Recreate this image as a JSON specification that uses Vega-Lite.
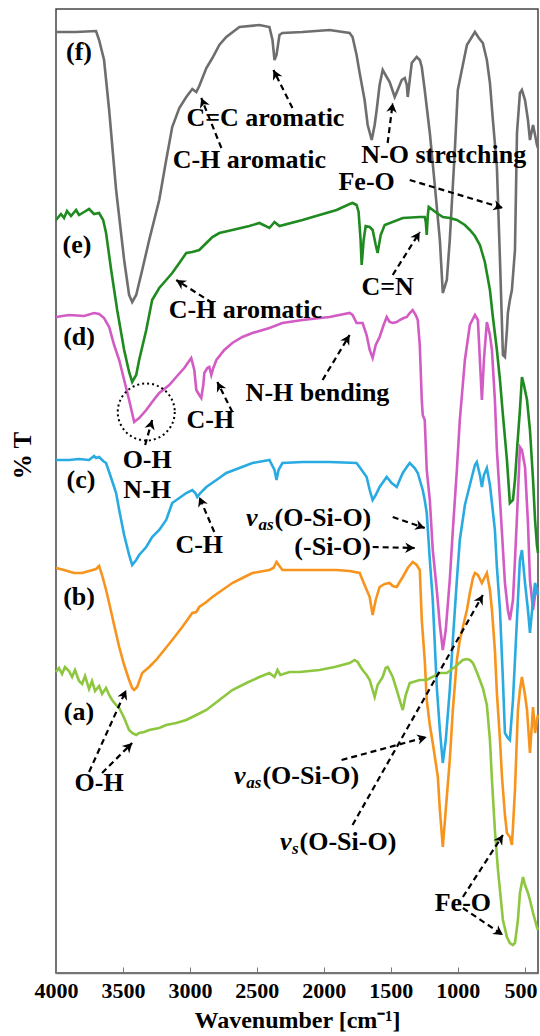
{
"$schema":"https://vega.github.io/schema/vega-lite/v6.json",
"width":482,"height":964,
"autosize":{"type":"none"},
"padding":{"left":56,"top":9,"right":2,"bottom":63},
"background":"white",
"config":{"view":{"stroke":"#444","strokeWidth":1.5},"font":"Liberation Serif"},
"datasets":{
"spectra":[
{"s":"f","w":4000,"t":941},{"s":"f","w":3850,"t":941},{"s":"f","w":3701,"t":942},{"s":"f","w":3678,"t":933},{"s":"f","w":3641,"t":913},{"s":"f","w":3603,"t":863},{"s":"f","w":3551,"t":783},{"s":"f","w":3491,"t":713},{"s":"f","w":3454,"t":678},{"s":"f","w":3431,"t":671},{"s":"f","w":3401,"t":678},{"s":"f","w":3356,"t":703},{"s":"f","w":3304,"t":733},{"s":"f","w":3229,"t":773},{"s":"f","w":3177,"t":813},{"s":"f","w":3132,"t":846},{"s":"f","w":3079,"t":865},{"s":"f","w":3027,"t":876},{"s":"f","w":2982,"t":884},{"s":"f","w":2952,"t":881},{"s":"f","w":2930,"t":887},{"s":"f","w":2877,"t":905},{"s":"f","w":2832,"t":915},{"s":"f","w":2780,"t":928},{"s":"f","w":2728,"t":936},{"s":"f","w":2630,"t":946},{"s":"f","w":2481,"t":948},{"s":"f","w":2406,"t":946},{"s":"f","w":2383,"t":933},{"s":"f","w":2368,"t":913},{"s":"f","w":2353,"t":918},{"s":"f","w":2331,"t":938},{"s":"f","w":2309,"t":940},{"s":"f","w":2159,"t":941},{"s":"f","w":1957,"t":943},{"s":"f","w":1807,"t":940},{"s":"f","w":1785,"t":936},{"s":"f","w":1755,"t":918},{"s":"f","w":1732,"t":900},{"s":"f","w":1695,"t":873},{"s":"f","w":1672,"t":848},{"s":"f","w":1642,"t":833},{"s":"f","w":1620,"t":848},{"s":"f","w":1605,"t":863},{"s":"f","w":1583,"t":888},{"s":"f","w":1560,"t":903},{"s":"f","w":1530,"t":896},{"s":"f","w":1508,"t":891},{"s":"f","w":1470,"t":876},{"s":"f","w":1448,"t":883},{"s":"f","w":1418,"t":893},{"s":"f","w":1395,"t":895},{"s":"f","w":1380,"t":888},{"s":"f","w":1373,"t":876},{"s":"f","w":1358,"t":893},{"s":"f","w":1343,"t":910},{"s":"f","w":1306,"t":916},{"s":"f","w":1283,"t":913},{"s":"f","w":1268,"t":906},{"s":"f","w":1246,"t":883},{"s":"f","w":1208,"t":840},{"s":"f","w":1171,"t":788},{"s":"f","w":1133,"t":733},{"s":"f","w":1111,"t":680},{"s":"f","w":1081,"t":693},{"s":"f","w":1059,"t":733},{"s":"f","w":1021,"t":823},{"s":"f","w":999,"t":883},{"s":"f","w":969,"t":903},{"s":"f","w":931,"t":928},{"s":"f","w":871,"t":941},{"s":"f","w":842,"t":935},{"s":"f","w":812,"t":930},{"s":"f","w":782,"t":913},{"s":"f","w":759,"t":890},{"s":"f","w":737,"t":853},{"s":"f","w":707,"t":806},{"s":"f","w":684,"t":713},{"s":"f","w":662,"t":618},{"s":"f","w":647,"t":616},{"s":"f","w":632,"t":643},{"s":"f","w":625,"t":660},{"s":"f","w":610,"t":673},{"s":"f","w":595,"t":683},{"s":"f","w":572,"t":723},{"s":"f","w":557,"t":840},{"s":"f","w":535,"t":880},{"s":"f","w":520,"t":883},{"s":"f","w":497,"t":873},{"s":"f","w":475,"t":853},{"s":"f","w":460,"t":833},{"s":"f","w":437,"t":848},{"s":"f","w":422,"t":838},{"s":"f","w":408,"t":828},{"s":"f","w":400,"t":825},
{"s":"e","w":4000,"t":753},{"s":"e","w":3963,"t":759},{"s":"e","w":3940,"t":755},{"s":"e","w":3918,"t":762},{"s":"e","w":3888,"t":757},{"s":"e","w":3850,"t":763},{"s":"e","w":3828,"t":758},{"s":"e","w":3790,"t":761},{"s":"e","w":3753,"t":764},{"s":"e","w":3716,"t":759},{"s":"e","w":3678,"t":760},{"s":"e","w":3648,"t":753},{"s":"e","w":3626,"t":740},{"s":"e","w":3588,"t":703},{"s":"e","w":3543,"t":663},{"s":"e","w":3491,"t":623},{"s":"e","w":3454,"t":601},{"s":"e","w":3431,"t":591},{"s":"e","w":3401,"t":598},{"s":"e","w":3379,"t":613},{"s":"e","w":3326,"t":643},{"s":"e","w":3282,"t":673},{"s":"e","w":3229,"t":685},{"s":"e","w":3177,"t":693},{"s":"e","w":3132,"t":700},{"s":"e","w":3079,"t":710},{"s":"e","w":3027,"t":720},{"s":"e","w":2982,"t":721},{"s":"e","w":2930,"t":723},{"s":"e","w":2877,"t":730},{"s":"e","w":2832,"t":736},{"s":"e","w":2780,"t":740},{"s":"e","w":2683,"t":743},{"s":"e","w":2556,"t":747},{"s":"e","w":2481,"t":750},{"s":"e","w":2406,"t":745},{"s":"e","w":2368,"t":751},{"s":"e","w":2331,"t":747},{"s":"e","w":2159,"t":753},{"s":"e","w":2032,"t":758},{"s":"e","w":1904,"t":763},{"s":"e","w":1807,"t":769},{"s":"e","w":1785,"t":770},{"s":"e","w":1755,"t":768},{"s":"e","w":1740,"t":761},{"s":"e","w":1725,"t":733},{"s":"e","w":1717,"t":708},{"s":"e","w":1702,"t":733},{"s":"e","w":1687,"t":747},{"s":"e","w":1657,"t":746},{"s":"e","w":1635,"t":743},{"s":"e","w":1612,"t":728},{"s":"e","w":1598,"t":720},{"s":"e","w":1575,"t":738},{"s":"e","w":1545,"t":748},{"s":"e","w":1410,"t":755},{"s":"e","w":1283,"t":756},{"s":"e","w":1246,"t":756},{"s":"e","w":1238,"t":751},{"s":"e","w":1231,"t":738},{"s":"e","w":1223,"t":758},{"s":"e","w":1216,"t":766},{"s":"e","w":1186,"t":763},{"s":"e","w":1156,"t":760},{"s":"e","w":1111,"t":756},{"s":"e","w":1059,"t":755},{"s":"e","w":1006,"t":753},{"s":"e","w":946,"t":748},{"s":"e","w":909,"t":743},{"s":"e","w":871,"t":737},{"s":"e","w":834,"t":728},{"s":"e","w":797,"t":711},{"s":"e","w":759,"t":683},{"s":"e","w":737,"t":656},{"s":"e","w":707,"t":623},{"s":"e","w":684,"t":593},{"s":"e","w":662,"t":558},{"s":"e","w":632,"t":513},{"s":"e","w":610,"t":470},{"s":"e","w":587,"t":473},{"s":"e","w":572,"t":493},{"s":"e","w":557,"t":523},{"s":"e","w":535,"t":563},{"s":"e","w":520,"t":596},{"s":"e","w":505,"t":588},{"s":"e","w":482,"t":573},{"s":"e","w":460,"t":543},{"s":"e","w":437,"t":493},{"s":"e","w":422,"t":453},{"s":"e","w":408,"t":428},{"s":"e","w":400,"t":420},
{"s":"d","w":4000,"t":656},{"s":"d","w":3903,"t":658},{"s":"d","w":3790,"t":657},{"s":"d","w":3716,"t":660},{"s":"d","w":3678,"t":659},{"s":"d","w":3641,"t":655},{"s":"d","w":3603,"t":646},{"s":"d","w":3566,"t":628},{"s":"d","w":3528,"t":613},{"s":"d","w":3491,"t":593},{"s":"d","w":3454,"t":573},{"s":"d","w":3416,"t":551},{"s":"d","w":3379,"t":555},{"s":"d","w":3326,"t":563},{"s":"d","w":3282,"t":571},{"s":"d","w":3229,"t":580},{"s":"d","w":3154,"t":588},{"s":"d","w":3102,"t":596},{"s":"d","w":3042,"t":605},{"s":"d","w":2990,"t":615},{"s":"d","w":2967,"t":603},{"s":"d","w":2952,"t":583},{"s":"d","w":2930,"t":578},{"s":"d","w":2915,"t":575},{"s":"d","w":2900,"t":588},{"s":"d","w":2892,"t":600},{"s":"d","w":2870,"t":605},{"s":"d","w":2855,"t":606},{"s":"d","w":2840,"t":598},{"s":"d","w":2825,"t":605},{"s":"d","w":2802,"t":613},{"s":"d","w":2743,"t":623},{"s":"d","w":2683,"t":630},{"s":"d","w":2608,"t":636},{"s":"d","w":2533,"t":640},{"s":"d","w":2406,"t":645},{"s":"d","w":2309,"t":650},{"s":"d","w":2159,"t":653},{"s":"d","w":1957,"t":656},{"s":"d","w":1807,"t":660},{"s":"d","w":1785,"t":658},{"s":"d","w":1755,"t":650},{"s":"d","w":1710,"t":650},{"s":"d","w":1680,"t":638},{"s":"d","w":1657,"t":623},{"s":"d","w":1635,"t":615},{"s":"d","w":1612,"t":628},{"s":"d","w":1583,"t":636},{"s":"d","w":1553,"t":648},{"s":"d","w":1530,"t":656},{"s":"d","w":1508,"t":651},{"s":"d","w":1485,"t":650},{"s":"d","w":1455,"t":651},{"s":"d","w":1433,"t":653},{"s":"d","w":1403,"t":655},{"s":"d","w":1380,"t":656},{"s":"d","w":1358,"t":660},{"s":"d","w":1336,"t":663},{"s":"d","w":1313,"t":658},{"s":"d","w":1298,"t":653},{"s":"d","w":1283,"t":628},{"s":"d","w":1268,"t":573},{"s":"d","w":1261,"t":558},{"s":"d","w":1246,"t":553},{"s":"d","w":1231,"t":503},{"s":"d","w":1208,"t":473},{"s":"d","w":1186,"t":423},{"s":"d","w":1156,"t":383},{"s":"d","w":1133,"t":348},{"s":"d","w":1111,"t":323},{"s":"d","w":1089,"t":343},{"s":"d","w":1059,"t":393},{"s":"d","w":1036,"t":443},{"s":"d","w":1006,"t":503},{"s":"d","w":984,"t":553},{"s":"d","w":946,"t":613},{"s":"d","w":909,"t":648},{"s":"d","w":871,"t":658},{"s":"d","w":849,"t":653},{"s":"d","w":834,"t":613},{"s":"d","w":819,"t":573},{"s":"d","w":804,"t":613},{"s":"d","w":782,"t":651},{"s":"d","w":759,"t":638},{"s":"d","w":744,"t":623},{"s":"d","w":722,"t":573},{"s":"d","w":707,"t":523},{"s":"d","w":684,"t":473},{"s":"d","w":669,"t":440},{"s":"d","w":647,"t":390},{"s":"d","w":625,"t":363},{"s":"d","w":610,"t":353},{"s":"d","w":587,"t":373},{"s":"d","w":572,"t":413},{"s":"d","w":557,"t":456},{"s":"d","w":535,"t":526},{"s":"d","w":520,"t":523},{"s":"d","w":497,"t":506},{"s":"d","w":475,"t":450},{"s":"d","w":460,"t":393},{"s":"d","w":437,"t":363},{"s":"d","w":422,"t":378},{"s":"d","w":408,"t":383},{"s":"d","w":400,"t":385},
{"s":"c","w":4000,"t":513},{"s":"c","w":3903,"t":513},{"s":"c","w":3828,"t":514},{"s":"c","w":3753,"t":513},{"s":"c","w":3716,"t":517},{"s":"c","w":3701,"t":515},{"s":"c","w":3678,"t":516},{"s":"c","w":3648,"t":512},{"s":"c","w":3626,"t":510},{"s":"c","w":3588,"t":495},{"s":"c","w":3551,"t":480},{"s":"c","w":3528,"t":463},{"s":"c","w":3491,"t":438},{"s":"c","w":3454,"t":418},{"s":"c","w":3431,"t":408},{"s":"c","w":3401,"t":413},{"s":"c","w":3379,"t":418},{"s":"c","w":3326,"t":426},{"s":"c","w":3282,"t":436},{"s":"c","w":3229,"t":443},{"s":"c","w":3177,"t":453},{"s":"c","w":3132,"t":470},{"s":"c","w":3079,"t":475},{"s":"c","w":3027,"t":480},{"s":"c","w":2982,"t":483},{"s":"c","w":2960,"t":480},{"s":"c","w":2945,"t":476},{"s":"c","w":2922,"t":480},{"s":"c","w":2877,"t":486},{"s":"c","w":2802,"t":493},{"s":"c","w":2728,"t":500},{"s":"c","w":2630,"t":505},{"s":"c","w":2533,"t":510},{"s":"c","w":2406,"t":513},{"s":"c","w":2368,"t":503},{"s":"c","w":2353,"t":493},{"s":"c","w":2338,"t":503},{"s":"c","w":2309,"t":510},{"s":"c","w":2159,"t":511},{"s":"c","w":1957,"t":511},{"s":"c","w":1755,"t":510},{"s":"c","w":1717,"t":503},{"s":"c","w":1680,"t":496},{"s":"c","w":1657,"t":483},{"s":"c","w":1635,"t":473},{"s":"c","w":1612,"t":478},{"s":"c","w":1583,"t":486},{"s":"c","w":1530,"t":496},{"s":"c","w":1493,"t":490},{"s":"c","w":1455,"t":486},{"s":"c","w":1433,"t":493},{"s":"c","w":1410,"t":500},{"s":"c","w":1380,"t":506},{"s":"c","w":1358,"t":510},{"s":"c","w":1321,"t":505},{"s":"c","w":1298,"t":500},{"s":"c","w":1283,"t":493},{"s":"c","w":1261,"t":483},{"s":"c","w":1246,"t":473},{"s":"c","w":1231,"t":460},{"s":"c","w":1208,"t":413},{"s":"c","w":1186,"t":373},{"s":"c","w":1156,"t":286},{"s":"c","w":1133,"t":243},{"s":"c","w":1111,"t":210},{"s":"c","w":1089,"t":233},{"s":"c","w":1059,"t":283},{"s":"c","w":1036,"t":333},{"s":"c","w":1006,"t":393},{"s":"c","w":984,"t":433},{"s":"c","w":946,"t":468},{"s":"c","w":909,"t":488},{"s":"c","w":871,"t":508},{"s":"c","w":857,"t":511},{"s":"c","w":834,"t":498},{"s":"c","w":819,"t":486},{"s":"c","w":804,"t":498},{"s":"c","w":782,"t":505},{"s":"c","w":759,"t":488},{"s":"c","w":744,"t":470},{"s":"c","w":722,"t":443},{"s":"c","w":707,"t":406},{"s":"c","w":684,"t":363},{"s":"c","w":662,"t":293},{"s":"c","w":647,"t":240},{"s":"c","w":625,"t":235},{"s":"c","w":610,"t":233},{"s":"c","w":587,"t":273},{"s":"c","w":572,"t":313},{"s":"c","w":550,"t":373},{"s":"c","w":535,"t":413},{"s":"c","w":520,"t":423},{"s":"c","w":497,"t":390},{"s":"c","w":475,"t":363},{"s":"c","w":460,"t":340},{"s":"c","w":437,"t":373},{"s":"c","w":422,"t":390},{"s":"c","w":408,"t":383},{"s":"c","w":400,"t":378},
{"s":"b","w":4000,"t":405},{"s":"b","w":3940,"t":403},{"s":"b","w":3865,"t":400},{"s":"b","w":3805,"t":400},{"s":"b","w":3753,"t":402},{"s":"b","w":3701,"t":404},{"s":"b","w":3678,"t":407},{"s":"b","w":3656,"t":398},{"s":"b","w":3626,"t":383},{"s":"b","w":3603,"t":370},{"s":"b","w":3566,"t":348},{"s":"b","w":3528,"t":326},{"s":"b","w":3491,"t":308},{"s":"b","w":3454,"t":293},{"s":"b","w":3431,"t":285},{"s":"b","w":3416,"t":283},{"s":"b","w":3394,"t":286},{"s":"b","w":3356,"t":300},{"s":"b","w":3304,"t":306},{"s":"b","w":3252,"t":313},{"s":"b","w":3192,"t":323},{"s":"b","w":3132,"t":333},{"s":"b","w":3057,"t":346},{"s":"b","w":2982,"t":360},{"s":"b","w":2952,"t":361},{"s":"b","w":2930,"t":366},{"s":"b","w":2877,"t":371},{"s":"b","w":2832,"t":376},{"s":"b","w":2758,"t":383},{"s":"b","w":2683,"t":390},{"s":"b","w":2608,"t":395},{"s":"b","w":2533,"t":400},{"s":"b","w":2406,"t":403},{"s":"b","w":2376,"t":405},{"s":"b","w":2353,"t":411},{"s":"b","w":2331,"t":407},{"s":"b","w":2309,"t":403},{"s":"b","w":2159,"t":403},{"s":"b","w":1904,"t":403},{"s":"b","w":1807,"t":402},{"s":"b","w":1732,"t":400},{"s":"b","w":1695,"t":388},{"s":"b","w":1657,"t":376},{"s":"b","w":1635,"t":358},{"s":"b","w":1612,"t":373},{"s":"b","w":1583,"t":386},{"s":"b","w":1545,"t":389},{"s":"b","w":1508,"t":390},{"s":"b","w":1485,"t":387},{"s":"b","w":1455,"t":386},{"s":"b","w":1433,"t":391},{"s":"b","w":1410,"t":396},{"s":"b","w":1373,"t":405},{"s":"b","w":1336,"t":411},{"s":"b","w":1306,"t":408},{"s":"b","w":1283,"t":403},{"s":"b","w":1268,"t":353},{"s":"b","w":1246,"t":313},{"s":"b","w":1231,"t":273},{"s":"b","w":1208,"t":248},{"s":"b","w":1186,"t":230},{"s":"b","w":1148,"t":196},{"s":"b","w":1133,"t":163},{"s":"b","w":1111,"t":126},{"s":"b","w":1089,"t":163},{"s":"b","w":1059,"t":213},{"s":"b","w":1036,"t":263},{"s":"b","w":1006,"t":313},{"s":"b","w":984,"t":333},{"s":"b","w":961,"t":346},{"s":"b","w":931,"t":363},{"s":"b","w":909,"t":380},{"s":"b","w":886,"t":395},{"s":"b","w":871,"t":400},{"s":"b","w":849,"t":398},{"s":"b","w":819,"t":390},{"s":"b","w":797,"t":396},{"s":"b","w":782,"t":400},{"s":"b","w":759,"t":383},{"s":"b","w":744,"t":363},{"s":"b","w":722,"t":323},{"s":"b","w":707,"t":280},{"s":"b","w":684,"t":233},{"s":"b","w":669,"t":196},{"s":"b","w":647,"t":158},{"s":"b","w":632,"t":140},{"s":"b","w":610,"t":136},{"s":"b","w":595,"t":128},{"s":"b","w":587,"t":146},{"s":"b","w":572,"t":183},{"s":"b","w":550,"t":263},{"s":"b","w":535,"t":283},{"s":"b","w":520,"t":296},{"s":"b","w":497,"t":278},{"s":"b","w":482,"t":263},{"s":"b","w":460,"t":220},{"s":"b","w":437,"t":266},{"s":"b","w":422,"t":240},{"s":"b","w":408,"t":253},{"s":"b","w":400,"t":258},
{"s":"a","w":4000,"t":301},{"s":"a","w":3978,"t":305},{"s":"a","w":3955,"t":299},{"s":"a","w":3933,"t":306},{"s":"a","w":3903,"t":302},{"s":"a","w":3880,"t":296},{"s":"a","w":3858,"t":303},{"s":"a","w":3828,"t":292},{"s":"a","w":3805,"t":289},{"s":"a","w":3783,"t":297},{"s":"a","w":3753,"t":284},{"s":"a","w":3731,"t":292},{"s":"a","w":3708,"t":282},{"s":"a","w":3678,"t":287},{"s":"a","w":3656,"t":279},{"s":"a","w":3626,"t":285},{"s":"a","w":3603,"t":278},{"s":"a","w":3581,"t":273},{"s":"a","w":3551,"t":268},{"s":"a","w":3528,"t":265},{"s":"a","w":3491,"t":255},{"s":"a","w":3454,"t":243},{"s":"a","w":3431,"t":240},{"s":"a","w":3401,"t":238},{"s":"a","w":3379,"t":240},{"s":"a","w":3341,"t":241},{"s":"a","w":3304,"t":243},{"s":"a","w":3229,"t":245},{"s":"a","w":3177,"t":248},{"s":"a","w":3102,"t":250},{"s":"a","w":3027,"t":253},{"s":"a","w":2952,"t":258},{"s":"a","w":2877,"t":263},{"s":"a","w":2780,"t":273},{"s":"a","w":2683,"t":283},{"s":"a","w":2578,"t":290},{"s":"a","w":2481,"t":296},{"s":"a","w":2406,"t":300},{"s":"a","w":2368,"t":296},{"s":"a","w":2346,"t":303},{"s":"a","w":2324,"t":298},{"s":"a","w":2256,"t":301},{"s":"a","w":2181,"t":301},{"s":"a","w":2032,"t":303},{"s":"a","w":1919,"t":306},{"s":"a","w":1807,"t":310},{"s":"a","w":1770,"t":313},{"s":"a","w":1747,"t":311},{"s":"a","w":1725,"t":306},{"s":"a","w":1710,"t":303},{"s":"a","w":1680,"t":298},{"s":"a","w":1657,"t":293},{"s":"a","w":1635,"t":283},{"s":"a","w":1620,"t":276},{"s":"a","w":1598,"t":288},{"s":"a","w":1560,"t":296},{"s":"a","w":1538,"t":305},{"s":"a","w":1523,"t":306},{"s":"a","w":1500,"t":300},{"s":"a","w":1485,"t":296},{"s":"a","w":1455,"t":283},{"s":"a","w":1433,"t":273},{"s":"a","w":1410,"t":263},{"s":"a","w":1388,"t":278},{"s":"a","w":1358,"t":290},{"s":"a","w":1283,"t":293},{"s":"a","w":1231,"t":293},{"s":"a","w":1133,"t":300},{"s":"a","w":1081,"t":300},{"s":"a","w":1021,"t":306},{"s":"a","w":961,"t":313},{"s":"a","w":931,"t":314},{"s":"a","w":909,"t":313},{"s":"a","w":886,"t":310},{"s":"a","w":857,"t":301},{"s":"a","w":812,"t":285},{"s":"a","w":782,"t":268},{"s":"a","w":759,"t":233},{"s":"a","w":744,"t":193},{"s":"a","w":722,"t":143},{"s":"a","w":699,"t":103},{"s":"a","w":662,"t":53},{"s":"a","w":632,"t":36},{"s":"a","w":610,"t":30},{"s":"a","w":587,"t":28},{"s":"a","w":572,"t":30},{"s":"a","w":550,"t":53},{"s":"a","w":535,"t":80},{"s":"a","w":512,"t":96},{"s":"a","w":497,"t":88},{"s":"a","w":475,"t":80},{"s":"a","w":460,"t":73},{"s":"a","w":437,"t":60},{"s":"a","w":408,"t":46},{"s":"a","w":400,"t":43}
],
"labels":[
{"label":"(f)","w":3828,"t":921},{"label":"(e)","w":3843,"t":728},{"label":"(d)","w":3828,"t":636},{"label":"(c)","w":3813,"t":493},{"label":"(b)","w":3828,"t":376},{"label":"(a)","w":3828,"t":261},
{"label":"C=C aromatic","w":2436,"t":855},{"label":"C-H aromatic","w":2556,"t":813},{"label":"N-O stretching","w":1104,"t":818},{"label":"Fe-O","w":1680,"t":791},{"label":"C=N","w":1523,"t":686},{"label":"C-H aromatic","w":2586,"t":663},{"label":"N-H bending","w":2047,"t":580},{"label":"C-H","w":2847,"t":553},{"label":"O-H","w":3319,"t":513},{"label":"N-H","w":3319,"t":483},{"label":"C-H","w":2930,"t":428},{"label":"(-Si-O)","w":1934,"t":426},{"label":"O-H","w":3678,"t":190},{"label":"Fe-O","w":961,"t":70}
],
"silica":[
{"main":"(O-Si-O)","sub":"as","w":2368,"t":455},{"main":"(O-Si-O)","sub":"as","w":2458,"t":197},{"main":"(O-Si-O)","sub":"s","w":2181,"t":131}
],
"arrows":[
{"w1":2765,"t1":825,"w2":2915,"t2":875},{"w1":2234,"t1":865,"w2":2376,"t2":903},{"w1":1523,"t1":830,"w2":1485,"t2":870},{"w1":1358,"t1":793,"w2":662,"t2":765},{"w1":1485,"t1":698,"w2":1283,"t2":741},{"w1":2832,"t1":670,"w2":3102,"t2":693},{"w1":2009,"t1":593,"w2":1807,"t2":638},{"w1":2683,"t1":561,"w2":2795,"t2":591},{"w1":3334,"t1":528,"w2":3282,"t2":553},{"w1":2818,"t1":441,"w2":2930,"t2":476},{"w1":1485,"t1":456,"w2":1246,"t2":445},{"w1":1635,"t1":426,"w2":1321,"t2":425},{"w1":3753,"t1":201,"w2":3476,"t2":283},{"w1":3656,"t1":200,"w2":3431,"t2":230},{"w1":1867,"t1":213,"w2":1231,"t2":236},{"w1":1785,"t1":148,"w2":812,"t2":378},{"w1":961,"t1":76,"w2":662,"t2":138},{"w1":961,"t1":65,"w2":662,"t2":38}
],
"circle":[{"w":3326,"t":561}]
},
"layer":[
{"data":{"name":"spectra"},
 "mark":{"type":"line","strokeWidth":2.6},
 "encoding":{
  "x":{"field":"w","type":"quantitative","scale":{"domain":[400,4000],"reverse":true,"nice":false,"zero":false},
   "axis":{"values":[4000,3500,3000,2500,2000,1500,1000,500],"format":"d","title":"Wavenumber [cm⁻¹]","grid":false,"tickSize":-6,"tickColor":"#777","domainColor":"#777","domainWidth":1.5,"labelFont":"Liberation Serif","labelFontWeight":"bold","labelFontSize":22,"labelColor":"black","labelPadding":13,"labelFlush":false,"labelOverlap":false,"labelOffset":{"condition":{"test":"datum.value == 500","value":-4},"value":0},"titleFont":"Liberation Serif","titleFontWeight":"bold","titleFontSize":24,"titleColor":"black","titleY":47,"titleBaseline":"middle"}},
  "y":{"field":"t","type":"quantitative","scale":{"domain":[0,964],"nice":false,"zero":false},
   "axis":{"title":"% T","labels":false,"ticks":false,"domain":false,"grid":false,"titleFont":"Liberation Serif","titleFontWeight":"bold","titleFontSize":25,"titleColor":"black","titleX":-34,"titleY":446,"titleAngle":-90,"titleBaseline":"middle","titleAlign":"center"}},
  "color":{"field":"s","type":"nominal","scale":{"domain":["a","b","c","d","e","f"],"range":["#8dc63f","#f7941d","#29abe2","#d35bc4","#1f8a1f","#6e6e6e"]},"legend":null},
  "detail":{"field":"s"}
 }},
{"data":{"name":"arrows"},
 "mark":{"type":"rule","strokeDash":[6,4],"strokeWidth":2.2,"color":"black"},
 "encoding":{"x":{"field":"w1","type":"quantitative"},"x2":{"field":"w2"},"y":{"field":"t1","type":"quantitative"},"y2":{"field":"t2"}}},
{"data":{"name":"arrows"},
 "transform":[{"calculate":"atan2(datum.t1-datum.t2,(datum.w1-datum.w2)*481/3600)*180/PI","as":"ang"}],
 "mark":{"type":"point","shape":"M0,0L-1,-0.55L-0.7,0L-1,0.55Z","filled":true,"color":"black","size":360,"opacity":1},
 "encoding":{"x":{"field":"w2","type":"quantitative"},"y":{"field":"t2","type":"quantitative"},"angle":{"field":"ang","type":"quantitative","scale":null}}},
{"data":{"name":"circle"},
 "mark":{"type":"point","shape":"circle","filled":false,"color":"black","strokeWidth":2,"strokeDash":[2,3],"size":3250,"opacity":1},
 "encoding":{"x":{"field":"w","type":"quantitative"},"y":{"field":"t","type":"quantitative"}}},
{"data":{"name":"labels"},
 "mark":{"type":"text","font":"Liberation Serif","fontWeight":"bold","fontSize":26,"align":"center","baseline":"middle","color":"black"},
 "encoding":{"x":{"field":"w","type":"quantitative"},"y":{"field":"t","type":"quantitative"},"text":{"field":"label"}}},
{"data":{"name":"silica"},
 "mark":{"type":"text","font":"Liberation Serif","fontWeight":"bold","fontSize":26,"align":"left","baseline":"middle","color":"black"},
 "encoding":{"x":{"field":"w","type":"quantitative"},"y":{"field":"t","type":"quantitative"},"text":{"field":"main"}}},
{"data":{"name":"silica"},
 "mark":{"type":"text","font":"Liberation Serif","fontWeight":"bold","fontStyle":"italic","fontSize":17,"align":"right","baseline":"middle","dx":-1,"dy":7,"color":"black"},
 "encoding":{"x":{"field":"w","type":"quantitative"},"y":{"field":"t","type":"quantitative"},"text":{"field":"sub"}}},
{"data":{"name":"silica"},
 "transform":[{"filter":"datum.sub=='as'"}],
 "mark":{"type":"text","font":"Liberation Serif","fontWeight":"bold","fontStyle":"italic","fontSize":26,"align":"right","baseline":"middle","dx":-17,"color":"black"},
 "encoding":{"x":{"field":"w","type":"quantitative"},"y":{"field":"t","type":"quantitative"},"text":{"value":"ν"}}},
{"data":{"name":"silica"},
 "transform":[{"filter":"datum.sub=='s'"}],
 "mark":{"type":"text","font":"Liberation Serif","fontWeight":"bold","fontStyle":"italic","fontSize":26,"align":"right","baseline":"middle","dx":-8,"color":"black"},
 "encoding":{"x":{"field":"w","type":"quantitative"},"y":{"field":"t","type":"quantitative"},"text":{"value":"ν"}}}
]
}
